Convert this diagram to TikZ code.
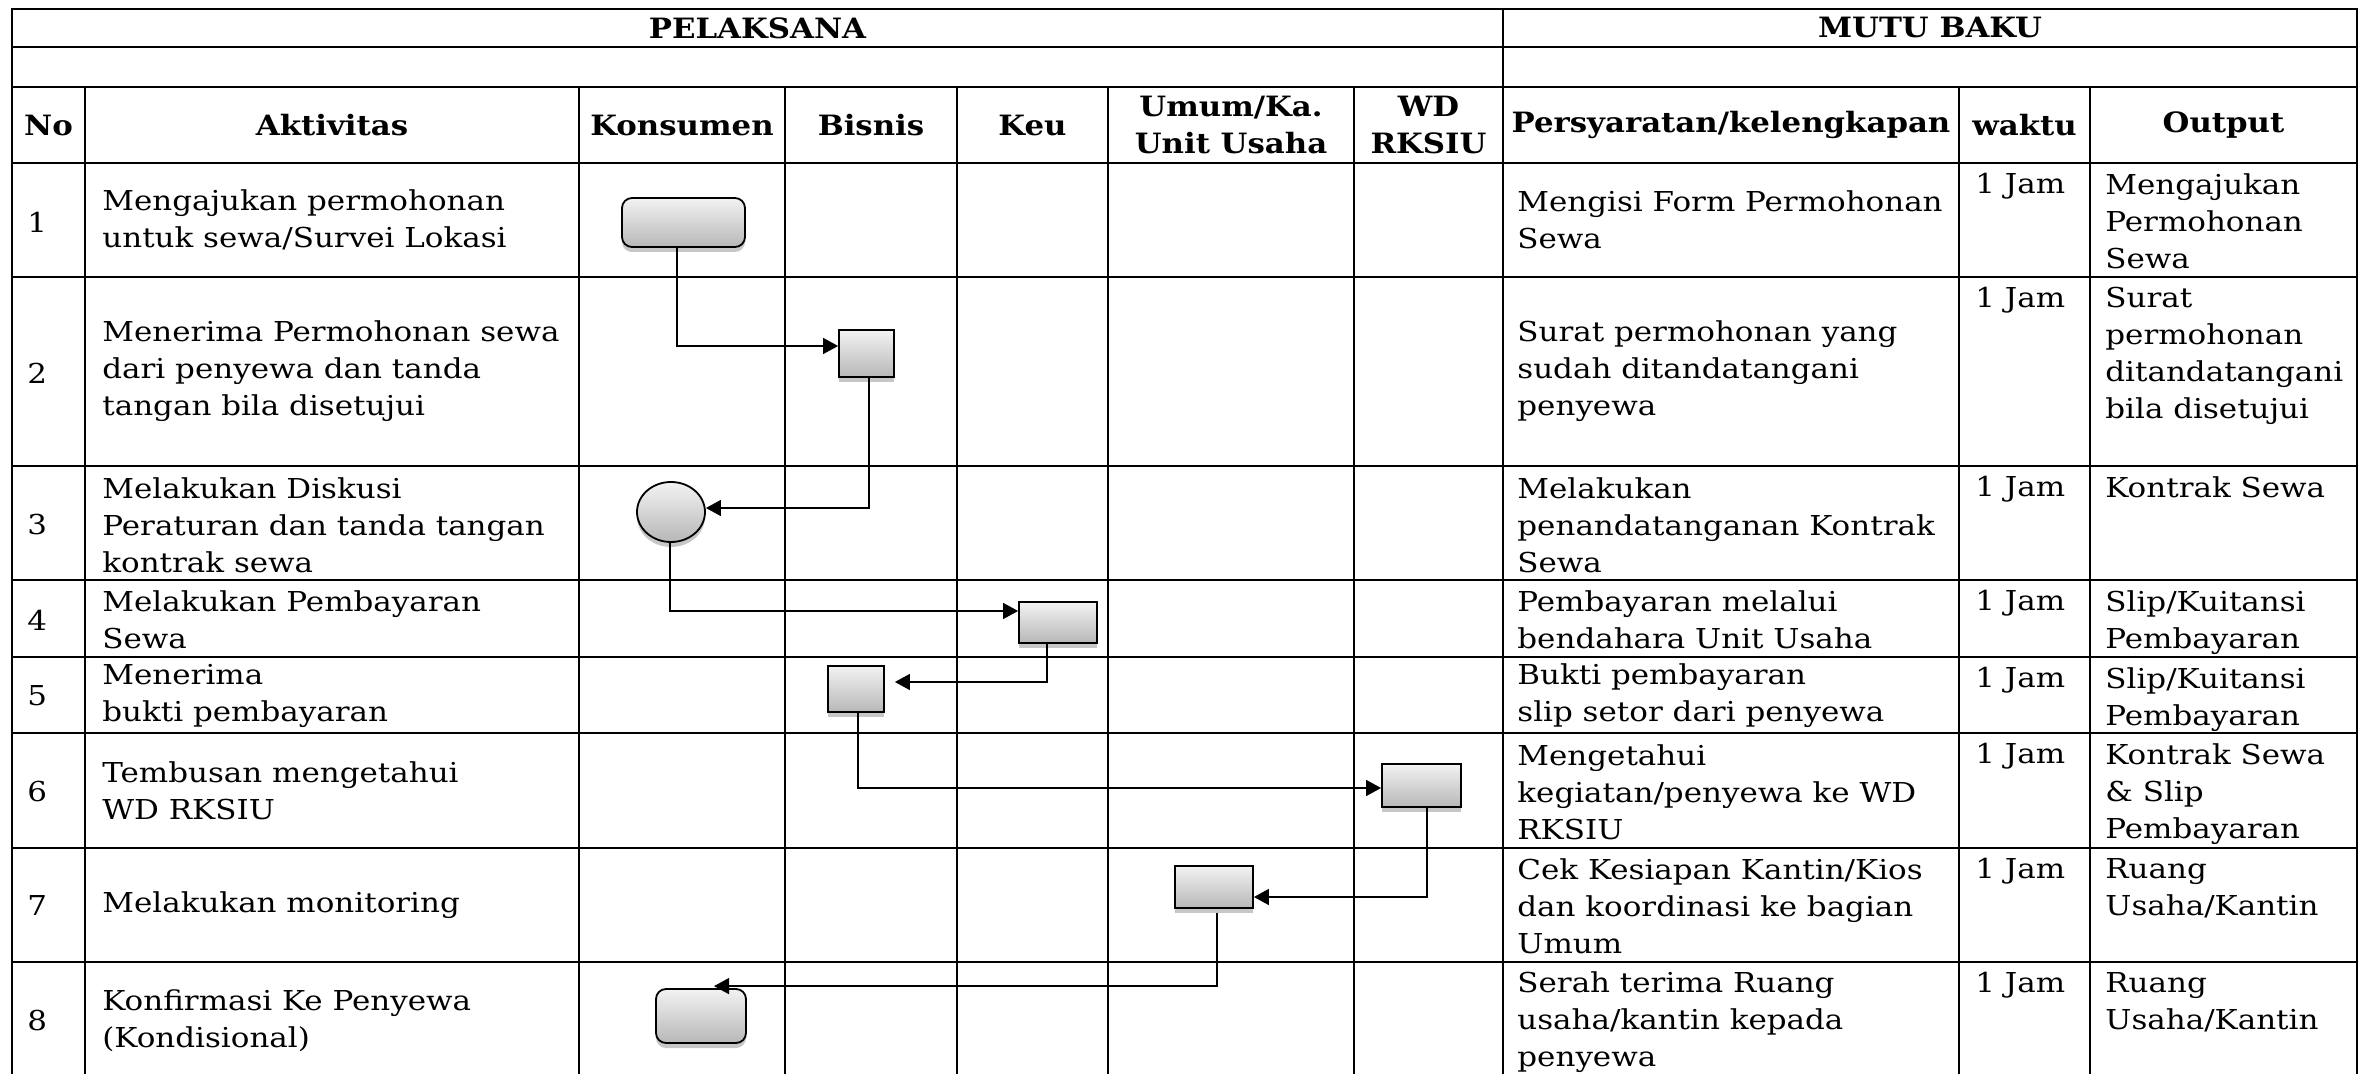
\documentclass[tikz,border=0pt]{standalone}
\usepackage{fontspec}
\setmainfont{DejaVu Serif}[FakeStretch=1.13]
\newfontfamily\hdfont{DejaVu Serif}[FakeStretch=1.1]
\usetikzlibrary{shapes.geometric,shadows,arrows.meta,calc}

\begin{document}
\begin{tikzpicture}[x=0.5pt,y=-0.5pt,
  hline/.style={line width=1.4pt, line cap=rect},
  vline/.style={line width=1.1pt, line cap=rect},
  txt/.style={font={\fontsize{13.7}{18.5}\selectfont}, inner sep=0pt, align=left},
  hd/.style={font={\hdfont\bfseries\fontsize{14}{18.5}\selectfont}, inner sep=0pt, align=center},
  proc/.style={draw=black, line width=0.9pt, inner sep=0pt,
    top color=black!5, bottom color=black!28,
    drop shadow={shadow xshift=0pt, shadow yshift=-2.5pt, opacity=0.22, fill=black}},
  flow/.style={line width=0.65pt, -{Triangle[length=7.5pt,width=8pt]}}
]
\useasboundingbox (0,0) rectangle (2378,1074);
\fill[white] (0,0) rectangle (2378,1074);
\clip (0,0) rectangle (2378,1074);

% table rules
\foreach \y in {9,47,87,163,277,466,580,657,733,848,962,1078}
  \draw[hline] (12,\y) -- (2357,\y);
\foreach \x in {12,1503,2357}
  \draw[vline] (\x,9) -- (\x,1078);
\foreach \x in {85,579,785,957,1108,1354,1959,2090}
  \draw[vline] (\x,87) -- (\x,1078);

% title row
\node[hd] (tP) at (757.5,28) {PELAKSANA};
\node[hd] (tM) at (1930,28) {MUTU BAKU};

% column headings
\node[hd] (hNo) at (48.5,125) {No};
\node[hd] (hAk) at (332,125) {Aktivitas};
\node[hd] (hKo) at (682,125) {Konsumen};
\node[hd] (hBi) at (871,125) {Bisnis};
\node[hd] (hKe) at (1032.5,125) {Keu};
\node[hd] (hUm) at (1231,125) {Umum/Ka.\\Unit Usaha};
\node[hd] (hWD) at (1428.5,125) {WD\\RKSIU};
\node[hd] (hPe) at (1731,125) {Persyaratan/kelengkapan};
\node[hd] (hWa) at (2024.5,125) {waktu};
\node[hd] (hOu) at (2223.5,125) {Output};

% row numbers
\foreach \n/\y in {1/222,2/373,3/525,4/620,5/696,6/792,7/906,8/1021}
  \node[txt, anchor=west] (n\n) at (27,\y) {\n};

% activities
\node[txt, anchor=west] (a1) at (102,220) {Mengajukan permohonan\\untuk sewa/Survei Lokasi};
\node[txt, anchor=west] (a2) at (102,371.5) {Menerima Permohonan sewa\\dari penyewa dan tanda\\tangan bila disetujui};
\node[txt, anchor=west] (a3) at (102,525) {Melakukan Diskusi\\Peraturan dan tanda tangan\\kontrak sewa};
\node[txt, anchor=west] (a4) at (102,620) {Melakukan Pembayaran\\Sewa};
\node[txt, anchor=west] (a5) at (102,696) {Menerima\\bukti pembayaran};
\node[txt, anchor=west] (a6) at (102,790.5) {Tembusan mengetahui\\WD RKSIU};
\node[txt, anchor=west] (a7) at (102,905) {Melakukan monitoring};
\node[txt, anchor=west] (a8) at (102,1021) {Konfirmasi Ke Penyewa\\(Kondisional)};

% requirements
\node[txt, anchor=west] (p1) at (1517,220) {Mengisi Form Permohonan\\Sewa};
\node[txt, anchor=west] (p2) at (1517,371.5) {Surat permohonan yang\\sudah ditandatangani\\penyewa};
\node[txt, anchor=west] (p3) at (1517,525) {Melakukan\\penandatanganan Kontrak\\Sewa};
\node[txt, anchor=west] (p4) at (1517,620) {Pembayaran melalui\\bendahara Unit Usaha};
\node[txt, anchor=west] (p5) at (1517,696) {Bukti pembayaran\\slip setor dari penyewa};
\node[txt, anchor=west] (p6) at (1517,792) {Mengetahui\\kegiatan/penyewa ke WD\\RKSIU};
\node[txt, anchor=west] (p7) at (1517,906) {Cek Kesiapan Kantin/Kios\\dan koordinasi ke bagian\\Umum};
\node[txt, anchor=west] (p8) at (1517,1022) {Serah terima Ruang\\usaha/kantin kepada\\penyewa};

% time
\foreach \k/\y in {1/163,2/277,3/466,4/580,5/657,6/733,7/848,8/962}
  \node[txt, anchor=north west] (w\k) at (1975,\y+10) {1 Jam};

% output
\node[txt, anchor=north west] (o1) at (2105,173) {Mengajukan\\Permohonan\\Sewa};
\node[txt, anchor=north west] (o2) at (2105,287) {Surat\\permohonan\\ditandatangani\\bila disetujui};
\node[txt, anchor=north west] (o3) at (2105,476) {Kontrak Sewa};
\node[txt, anchor=north west] (o4) at (2105,590) {Slip/Kuitansi\\Pembayaran};
\node[txt, anchor=north west] (o5) at (2105,667) {Slip/Kuitansi\\Pembayaran};
\node[txt, anchor=north west] (o6) at (2105,743) {Kontrak Sewa\\\& Slip\\Pembayaran};
\node[txt, anchor=north west] (o7) at (2105,858) {Ruang\\Usaha/Kantin};
\node[txt, anchor=north west] (o8) at (2105,972) {Ruang\\Usaha/Kantin};

% flow symbols
\node[proc, rounded corners=5pt, minimum width=61.5pt, minimum height=24.5pt] (s1) at (683.5,222.5) {};
\node[proc, minimum width=27.5pt, minimum height=23.5pt] (s2) at (866.5,353.5) {};
\node[proc, ellipse, minimum width=34pt, minimum height=30pt] (c3) at (671,512) {};
\node[proc, minimum width=39pt, minimum height=20.5pt] (s4) at (1058,622.5) {};
\node[proc, minimum width=28pt, minimum height=23pt] (s5) at (856,689) {};
\node[proc, minimum width=39.5pt, minimum height=21.5pt] (s6) at (1421.5,785.5) {};
\node[proc, minimum width=39pt, minimum height=21pt] (s7) at (1214,887) {};
\node[proc, rounded corners=5pt, minimum width=45pt, minimum height=27pt] (s8) at (701,1016) {};

% connectors
\draw[flow] ([xshift=-3.25pt]s1.south) |- ([yshift=3.75pt]s2.west);
\draw[flow] ([xshift=1.25pt]s2.south) |- ([yshift=2pt]c3.east);
\draw[flow] ([xshift=-0.5pt]c3.south) |- ([yshift=5.75pt]s4.west);
\draw[flow, shorten >=5pt] ([xshift=-5.5pt]s4.south) |- ([yshift=3.5pt]s5.east);
\draw[flow] ([xshift=1pt]s5.south) |- ([yshift=-1.25pt]s6.west);
\draw[flow] ([xshift=2.75pt]s6.south) |- ([yshift=-5pt]s7.east);
\draw[flow, shorten <=2pt] ([xshift=1.5pt]s7.south) |- ([xshift=6.5pt,yshift=1pt]s8.north);
\end{tikzpicture}
\end{document}
